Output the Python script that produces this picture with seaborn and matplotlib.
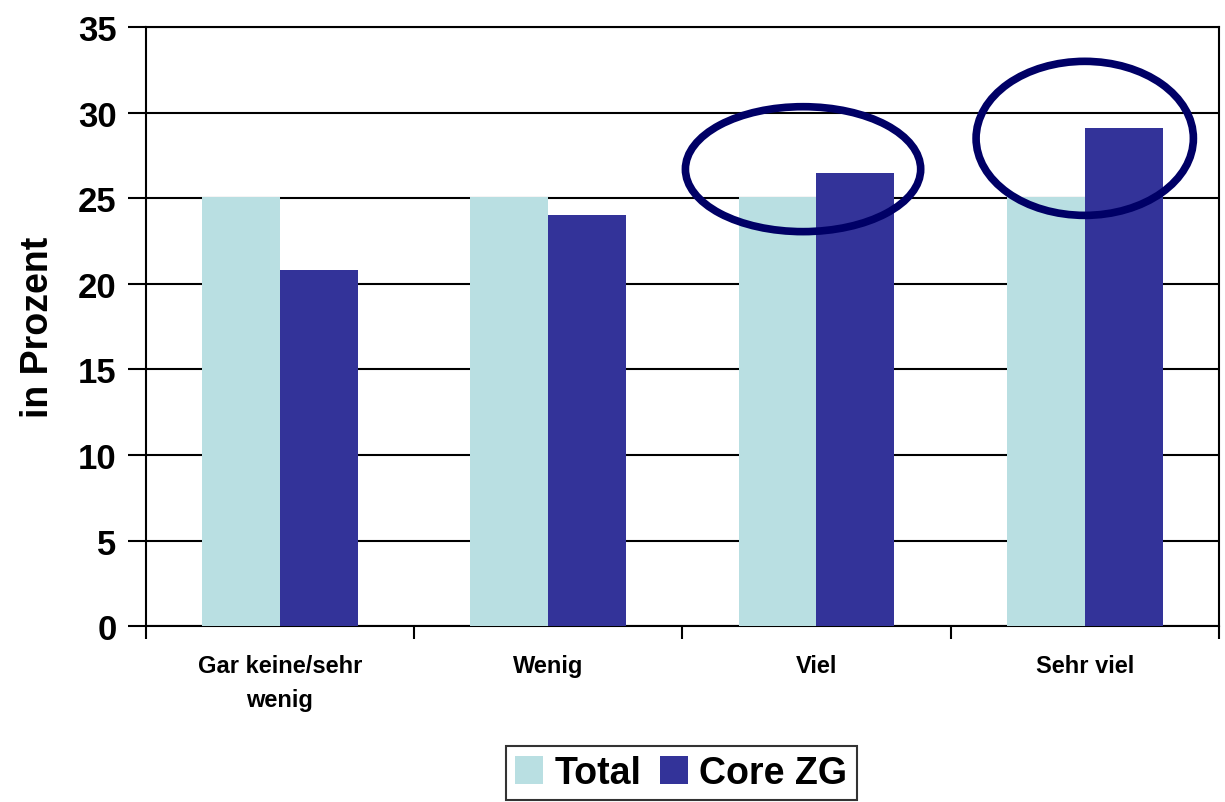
import pandas as pd
import matplotlib
matplotlib.use("Agg")
import matplotlib.pyplot as plt
from matplotlib.patches import Ellipse
from matplotlib.ticker import FixedLocator
import seaborn as sns

# data
categories = ["Gar keine/sehr\nwenig", "Wenig", "Viel", "Sehr viel"]
total = [25.1, 25.1, 25.1, 25.1]
core_zg = [20.8, 24.0, 26.5, 29.1]
series = ["Total", "Core ZG"]
colors = ["#B9DFE2", "#333399"]

df = pd.DataFrame({
    "cat": categories * 2,
    "value": total + core_zg,
    "series": [series[0]] * 4 + [series[1]] * 4,
})

sns.set_style("white")
plt.rcParams['font.family'] = ['Liberation Sans', 'DejaVu Sans']
plt.rcParams['font.weight'] = 'bold'
plt.rcParams['text.color'] = 'black'
plt.rcParams['axes.labelcolor'] = 'black'
plt.rcParams['xtick.color'] = 'black'
plt.rcParams['ytick.color'] = 'black'

fig = plt.figure(figsize=(12.25, 8.03), dpi=100)
ax = fig.add_axes([0.119, 0.219, 0.876, 0.746])

sns.barplot(data=df, x="cat", y="value", hue="series", palette=colors,
            width=0.58, saturation=1, ax=ax, legend=True, zorder=3,
            linewidth=0)

ax.set_ylim(0, 35)
ax.set_xlim(-0.5, 3.5)
ax.set_yticks(range(0, 36, 5))
ax.yaxis.grid(True, color="black", linewidth=1.5, zorder=0)
ax.set_axisbelow(True)
for s in ax.spines.values():
    s.set_color("black")
    s.set_linewidth(1.5)
    s.set_visible(True)

ax.tick_params(axis="y", which="major", left=True, length=13, width=1.5,
               labelsize=25, pad=8, direction="out")
ax.tick_params(axis="x", which="major", length=0, labelsize=17, pad=20)
ax.xaxis.set_minor_locator(FixedLocator([-0.5, 0.5, 1.5, 2.5, 3.5]))
ax.tick_params(axis="x", which="minor", bottom=True, length=9, width=1.5,
               direction="out")
for lab in ax.get_yticklabels():
    lab.set_fontweight("bold")
for lab in ax.get_xticklabels():
    lab.set_fontweight("bold")
    lab.set_linespacing(1.6)

ax.set_xlabel("")
ax.set_ylabel("in Prozent", fontsize=27, fontweight="bold", labelpad=16)

# ellipses highlighting the last two groups
ax.add_patch(Ellipse((1.95, 26.7), 0.877, 7.3, fill=False,
                     edgecolor="#000066", linewidth=5.5, zorder=5, clip_on=False))
ax.add_patch(Ellipse((3.0, 28.5), 0.81, 9.0, fill=False,
                     edgecolor="#000066", linewidth=5.5, zorder=5, clip_on=False))

handles, labels = ax.get_legend_handles_labels()
ax.legend(handles, labels, loc="center", bbox_to_anchor=(0.499, -0.245),
          ncol=2, frameon=True, fancybox=False, edgecolor="black",
          prop={"size": 27, "weight": "bold"}, handlelength=0.75,
          handleheight=0.75, handletextpad=0.3, columnspacing=0.5,
          borderpad=0.25).get_frame().set_linewidth(1.5)

plt.savefig("out.png", dpi=100)
